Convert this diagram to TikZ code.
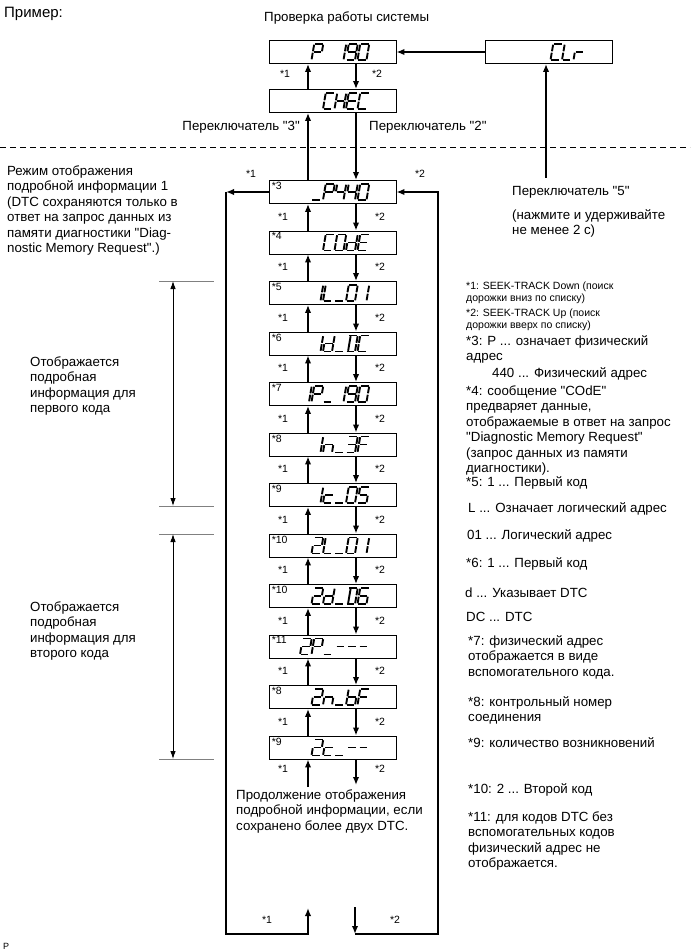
\documentclass[tikz,border=0pt]{standalone}
\usepackage{fontspec}
\setmainfont{Liberation Sans}[Ligatures=TeXOff]
\usetikzlibrary{arrows.meta}

% seven-segment glyph segments (local frame: width 9, height 16, y up)
\def\lcdsegA{(0.7,16)--(8.3,16)}
\def\lcdsegB{(9,15.3)--(9,8.7)}
\def\lcdsegC{(9,7.3)--(9,0.7)}
\def\lcdsegD{(0.7,0)--(8.3,0)}
\def\lcdsegE{(0,0.7)--(0,7.3)}
\def\lcdsegF{(0,8.7)--(0,15.3)}
\def\lcdsegG{(0.7,8)--(8.3,8)}
\def\lcdsegX{(2,0.7)--(2,15.3)}
\newcommand\lcddef[2]{\expandafter\def\csname lcdc#1\endcsname{#2}}
\lcddef{P}{A,B,E,F,G}
\lcddef{1}{B,C}
\lcddef{I}{B,C}
\lcddef{9}{A,B,C,D,F,G}
\lcddef{0}{A,B,C,D,E,F}
\lcddef{O}{A,B,C,D,E,F}
\lcddef{C}{A,D,E,F}
\lcddef{H}{B,C,E,F,G}
\lcddef{E}{A,D,E,F,G}
\lcddef{L}{D,E,F}
\lcddef{r}{E,G}
\lcddef{u}{D}
\lcddef{m}{G}
\lcddef{4}{B,C,F,G}
\lcddef{d}{B,C,D,E,G}
\lcddef{D}{A,B,C,D,X}
\lcddef{n}{C,E,G}
\lcddef{3}{A,B,C,D,G}
\lcddef{F}{A,E,F,G}
\lcddef{c}{D,E,G}
\lcddef{5}{A,C,D,F,G}
\lcddef{2}{A,B,D,E,G}
\lcddef{6}{A,C,D,E,F,G}
\lcddef{b}{C,D,E,F,G}
\newcommand\lcdrow[3]{%
  \edef\lcdlist{#3}%
  \foreach \ci/\ch in \lcdlist {%
    \expandafter\let\expandafter\lcdcur\csname lcdc\ch\endcsname
    \begin{scope}[shift={({#1-(7-\ci)*11.5},#2)}]
      \begin{scope}[y=1pt,xslant=0.17,line width=1.9pt]
        \foreach \s in \lcdcur {\expandafter\draw\csname lcdseg\s\endcsname;}
      \end{scope}
    \end{scope}}}

\newcommand\fb{\fontsize{13.3}{15.5}\selectfont}
\newcommand\fs{\fontsize{10.5}{12}\selectfont}

\begin{document}
\begin{tikzpicture}[x=1pt,y=-1pt,
  box/.style={draw, line width=0.9pt, minimum width=127pt, minimum height=23pt, inner sep=0pt},
  arr/.style={line width=1.8pt, -{Latex[length=8pt,width=6.5pt]}},
  loopl/.style={line width=2.3pt},
  para/.style={inner sep=0pt, anchor=north west, align=left, font=\fb, execute at begin node=\strut, yshift=10.85pt},
  spara/.style={inner sep=0pt, anchor=north west, align=left, font=\fs, execute at begin node=\strut, yshift=8.4pt},
  one/.style={inner sep=0pt, anchor=base west, font=\fb},
  lbl/.style={inner sep=0pt, font=\fontsize{10.5}{12}\selectfont},
  star/.style={inner sep=0pt, anchor=north west, xshift=3pt, yshift=-2pt, font=\fontsize{10.5}{12}\selectfont},
  thin/.style={line width=0.6pt, gray},
  brk/.style={line width=0.9pt, {Latex[length=8pt,width=5.5pt]}-{Latex[length=8pt,width=5.5pt]}}
]
\useasboundingbox (0,0) rectangle (690,952);

% column coordinates
\coordinate (ux) at (308,0);
\coordinate (dx) at (356,0);

% ---------- top part ----------
\node[one, font=\fontsize{15}{17}\selectfont] (ex) at (4,18) {Пример:};
\node[one] (chk) at (264,22) {Проверка работы системы};

\node[box] (p) at (332.5,52) {};
\node[box] (c) at (332.5,101) {};
\node[box] (clr) at (548.5,52) {};
\lcdrow{369}{60}{2/P,4/1,5/9,6/0}
\lcdrow{369}{109}{3/C,4/H,5/E,6/C}
\lcdrow{585}{60}{4/C,5/L,6/r}

\draw[arr] (clr.west) -- (p.east);
\draw[arr] (c.north -| ux) -- (p.south -| ux);
\draw[arr] (p.south -| dx) -- (c.north -| dx);
\node[lbl] (pc1) at (285,74) {*1};
\node[lbl] (pc2) at (377,74) {*2};

\node[one, anchor=base east] (sw3) at (300,131) {Переключатель "3"};
\node[one] (sw2) at (369,131) {Переключатель "2"};

\coordinate (dl) at (0,147);
\coordinate (dr) at (690,147);
\draw[line width=0.8pt, dash pattern=on 6pt off 4pt] (dl) -- (dr);

\coordinate (k5) at (546,178);
\draw[arr] (k5) -- (k5 |- clr.south);
\node[one] (sw5) at (512,196) {Переключатель "5"};
\node[para] (hold) at (512,220) {(нажмите и удерживайте\\не менее 2 с)};

% ---------- chain of displays ----------
\node[box] (b0) at (332.5,192) {};
\node[box] (b1) at (332.5,242.5) {};
\node[box] (b2) at (332.5,293) {};
\node[box] (b3) at (332.5,343.5) {};
\node[box] (b4) at (332.5,394) {};
\node[box] (b5) at (332.5,444.5) {};
\node[box] (b6) at (332.5,495) {};
\node[box] (b7) at (332.5,545.5) {};
\node[box] (b8) at (332.5,596) {};
\node[box] (b9) at (332.5,646.5) {};
\node[box] (b10) at (332.5,697) {};
\node[box] (b11) at (332.5,747.5) {};

\node[star] (s0) at (b0.north west) {*3};
\node[star] (s1) at (b1.north west) {*4};
\node[star] (s2) at (b2.north west) {*5};
\node[star] (s3) at (b3.north west) {*6};
\node[star] (s4) at (b4.north west) {*7};
\node[star] (s5) at (b5.north west) {*8};
\node[star] (s6) at (b6.north west) {*9};
\node[star] (s7) at (b7.north west) {*10};
\node[star] (s8) at (b8.north west) {*10};
\node[star] (s9) at (b9.north west) {*11};
\node[star] (s10) at (b10.north west) {*8};
\node[star] (s11) at (b11.north west) {*9};

\lcdrow{369}{200}{2/u,3/P,4/4,5/4,6/0}
\lcdrow{369}{250.5}{3/C,4/O,5/d,6/E}
\lcdrow{369}{301}{2/I,3/L,4/u,5/0,6/1}
\lcdrow{369}{351.5}{2/I,3/d,4/u,5/D,6/C}
\lcdrow{369}{402}{1/I,2/P,3/u,4/1,5/9,6/0}
\lcdrow{369}{452.5}{2/I,3/n,4/u,5/3,6/F}
\lcdrow{369}{503}{2/I,3/c,4/u,5/0,6/5}
\lcdrow{369}{553.5}{2/2,3/L,4/u,5/0,6/1}
\lcdrow{369}{604}{2/2,3/d,4/u,5/D,6/6}
\lcdrow{369}{654.5}{1/2,2/P,3/u,4/m,5/m,6/m}
\lcdrow{369}{705}{2/2,3/n,4/u,5/b,6/F}
\lcdrow{369}{755.5}{2/2,3/c,4/u,5/m,6/m}

% links CHEC <-> first display
\draw[arr] (b0.north -| ux) -- (c.south -| ux);
\draw[arr] (c.south -| dx) -- (b0.north -| dx);
\node[lbl] (t1) at (251,174) {*1};
\node[lbl] (t2) at (420,174) {*2};

% links between displays
\foreach \a/\b in {0/1,1/2,2/3,3/4,4/5,5/6,6/7,7/8,8/9,9/10,10/11}{
  \draw[arr] (b\b.north -| ux) -- (b\a.south -| ux);
  \draw[arr] (b\a.south -| dx) -- (b\b.north -| dx);
  \pgfmathsetmacro\ym{192+50.5*\a+24.5}
  \node[lbl] (l1\a) at (283,\ym) {*1};
  \node[lbl] (l2\a) at (380,\ym) {*2};
}

% below last display
\coordinate (ue) at (308,787);
\coordinate (de) at (356,785);
\draw[arr] (ue) -- (b11.south -| ux);
\draw[arr] (b11.south -| dx) -- (de);
\node[lbl] (e1) at (283,769) {*1};
\node[lbl] (e2) at (380,769) {*2};

\node[para] (cont) at (236,800) {Продолжение отображения\\подробной информации, если\\сохранено более двух DTC.};

% outer loop
\coordinate (LL) at (226,934);
\coordinate (RR) at (438,934);
\coordinate (ub) at (308,908);
\coordinate (db) at (355,907);
\draw[arr, loopl] (b0.west) -- (b0.west -| LL);
\draw[arr, loopl] (b0.west -| LL) -- (LL) -- (LL -| ub) -- (ub);
\draw[arr, loopl] (db) -- (db |- RR);
\draw[arr, loopl] (db |- RR) -- (RR) -- (RR |- b0.east) -- (b0.east);
\node[lbl] (f1) at (267,920) {*1};
\node[lbl] (f2) at (395,920) {*2};

% ---------- left brackets ----------
\coordinate (h1) at (159,281);
\coordinate (h2) at (159,506);
\coordinate (h3) at (159,534);
\coordinate (h4) at (159,759);
\coordinate (bx) at (173,0);
\foreach \h in {h1,h2,h3,h4}{\draw[thin] (\h) -- ++(55,0);}
\draw[brk] (bx |- h1) -- (bx |- h2);
\draw[brk] (bx |- h3) -- (bx |- h4);

\node[para] (mode) at (7,176) {Режим отображения\\подробной информации 1\\(DTC сохраняются только в\\ответ на запрос данных из\\памяти диагностики "Diag-\\nostic Memory Request".)};
\node[para] (first) at (30,367) {Отображается\\подробная\\информация для\\первого кода};
\node[para] (second) at (30,612) {Отображается\\подробная\\информация для\\второго кода};

% ---------- right notes ----------
\node[spara] (n1) at (466,290) {*1: SEEK-TRACK Down (поиск\\дорожки вниз по списку)};
\node[spara] (n2) at (466,317) {*2: SEEK-TRACK Up (поиск\\дорожки вверх по списку)};
\node[para] (n3) at (466,346) {*3: P ... означает физический\\адрес};
\node[one] (n3b) at (492,377) {440 ... Физический адрес};
\node[para] (n4) at (466,396) {*4: сообщение "COdE"\\предваряет данные,\\отображаемые в ответ на запрос\\"Diagnostic Memory Request"\\(запрос данных из памяти\\диагностики).};
\node[one] (n5) at (466,486) {*5: 1 ... Первый код};
\node[one] (n5b) at (468,512) {L ... Означает логический адрес};
\node[one] (n5c) at (467,539) {01 ... Логический адрес};
\node[one] (n6) at (466,567) {*6: 1 ... Первый код};
\node[one] (n6b) at (465,597) {d ... Указывает DTC};
\node[one] (n6c) at (466,621) {DC ... DTC};
\node[para] (n7) at (468,646) {*7: физический адрес\\отображается в виде\\вспомогательного кода.};
\node[para] (n8) at (468,707) {*8: контрольный номер\\соединения};
\node[one] (n9) at (468,747) {*9: количество возникновений};
\node[one] (n10) at (468,793) {*10: 2 ... Второй код};
\node[para] (n11) at (468,822) {*11: для кодов DTC без\\вспомогательных кодов\\физический адрес не\\отображается.};

\node[one, font=\fontsize{9}{11}\selectfont] (pp) at (3,949) {P};
\end{tikzpicture}
\end{document}
